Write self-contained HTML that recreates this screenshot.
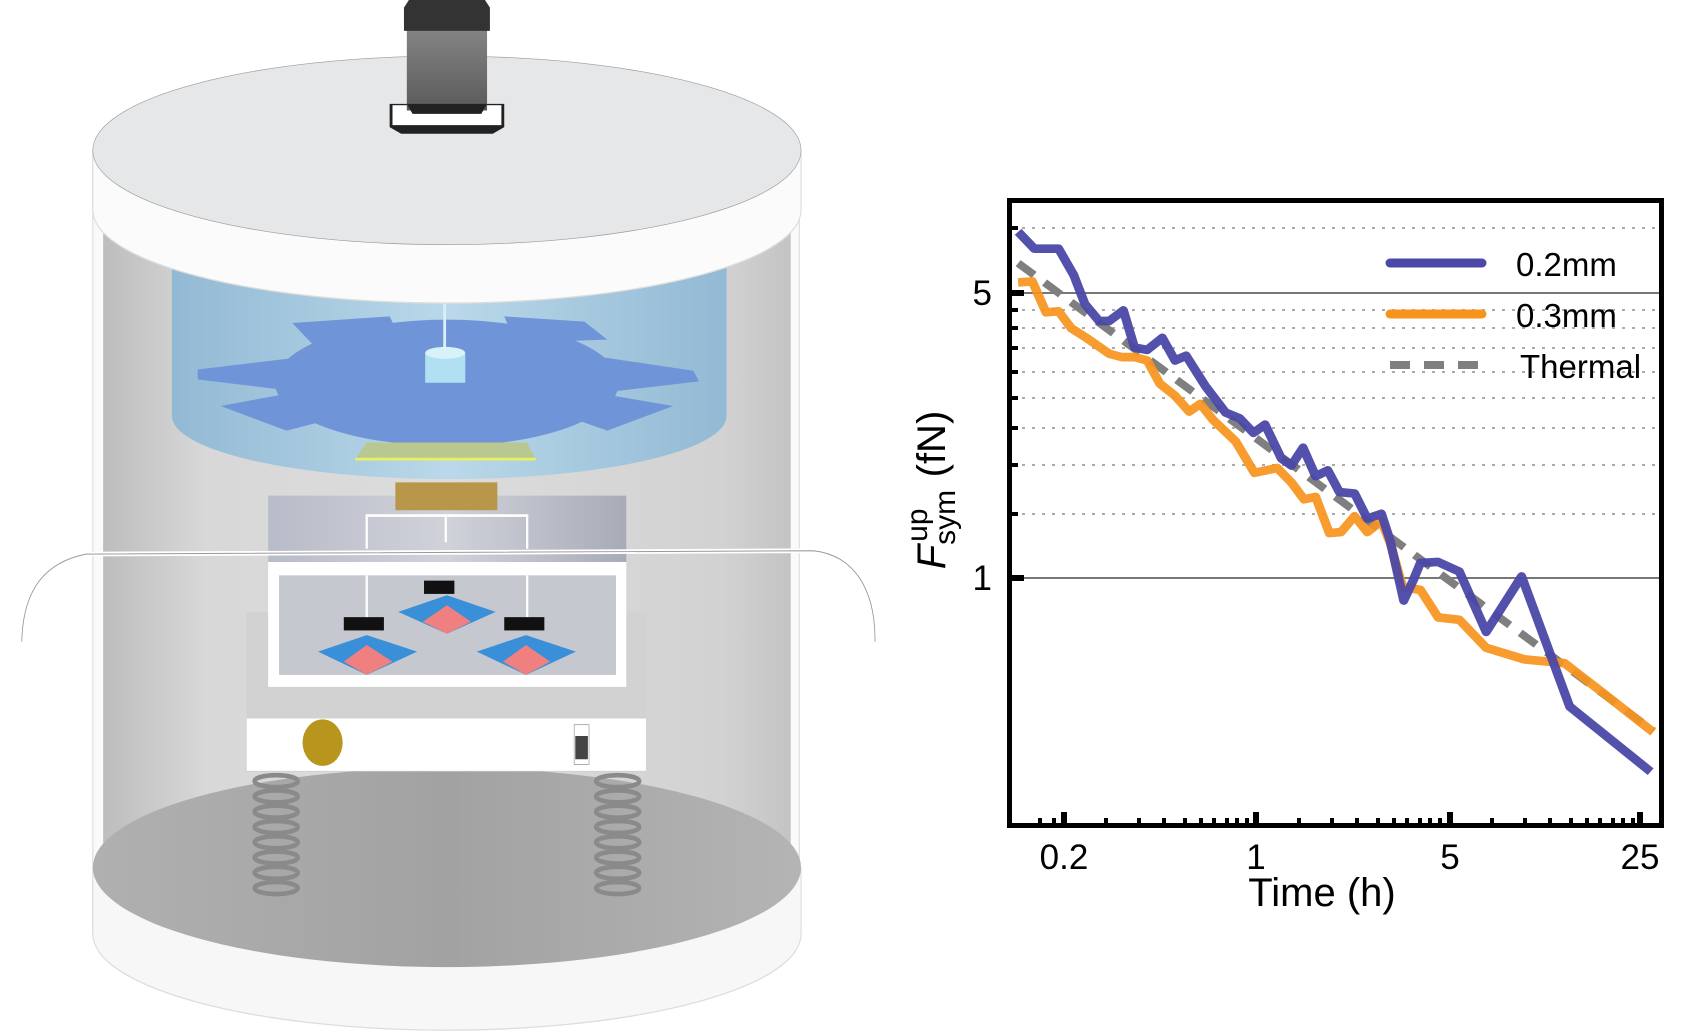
<!DOCTYPE html>
<html><head><meta charset="utf-8"><style>
html,body{margin:0;padding:0;background:#fff;}
svg{display:block;}
text{font-family:"Liberation Sans",Arial,sans-serif;}
</style></head><body>
<svg width="1692" height="1033" viewBox="0 0 1692 1033" xmlns="http://www.w3.org/2000/svg">
<defs>
<linearGradient id="wall" x1="0" x2="1"><stop offset="0" stop-color="#bdbdbd"/><stop offset="0.15" stop-color="#d8d8d8"/><stop offset="0.5" stop-color="#dcdcdc"/><stop offset="0.9" stop-color="#d2d2d2"/><stop offset="1" stop-color="#c4c4c4"/></linearGradient>
<linearGradient id="tank" x1="0" x2="1"><stop offset="0" stop-color="#8fb8d4"/><stop offset="0.5" stop-color="#b8d8ea"/><stop offset="1" stop-color="#8fb8d4"/></linearGradient>
<linearGradient id="motor" x1="0" x2="0" y1="0" y2="1"><stop offset="0" stop-color="#8a8a8a"/><stop offset="1" stop-color="#5a5a5a"/></linearGradient>
<linearGradient id="floor" x1="0" x2="1"><stop offset="0" stop-color="#b0b0b0"/><stop offset="0.5" stop-color="#a2a2a2"/><stop offset="1" stop-color="#b4b4b4"/></linearGradient>
<linearGradient id="upbox" x1="0" x2="1"><stop offset="0" stop-color="#b8bcc8"/><stop offset="0.5" stop-color="#d0d2da"/><stop offset="1" stop-color="#a8acb8"/></linearGradient>
</defs>

<g transform="translate(0,-9) scale(0.573,0.664)">
  <rect x="162" y="240" width="1233" height="1180" fill="#fafafa" stroke="#ddd" stroke-width="2"/>
  <rect x="180" y="330" width="1200" height="1000" fill="url(#wall)"/>
  <path d="M162,1320 L162,1420 A618,145 0 0 0 1398,1420 L1398,1320 Z" fill="#f7f7f7" stroke="#ddd" stroke-width="2"/>
  <ellipse cx="780" cy="1320" rx="618" ry="150" fill="url(#floor)"/>
  <path d="M300,360 L300,640 A484,95 0 0 0 1268,640 L1268,360 Z" fill="url(#tank)" opacity="0.95"/>
  <g fill="#6f95d8">
    <ellipse cx="780" cy="590" rx="300" ry="95"/>
    <polygon points="510,500 680,490 700,525 560,545"/>
    <polygon points="345,570 520,552 535,605 345,585"/>
    <polygon points="385,625 510,605 600,640 500,662"/>
    <polygon points="690,630 860,630 850,690 690,685"/>
    <polygon points="960,632 1060,608 1175,625 1060,662"/>
    <polygon points="1040,550 1210,572 1220,588 1050,605"/>
    <polygon points="880,490 1020,498 1060,525 900,530"/>
  </g>
  <line x1="776" y1="440" x2="776" y2="560" stroke="#d8eef8" stroke-width="5"/>
  <rect x="742" y="545" width="70" height="45" fill="#b0e0f2"/>
  <ellipse cx="777" cy="545" rx="35" ry="9" fill="#d8f2fa"/>
  <polygon points="640,680 920,680 935,705 620,705" fill="#b8c890"/>
  <line x1="620" y1="705" x2="935" y2="705" stroke="#e8f060" stroke-width="4"/>
  <path d="M162,240 L162,330 A618,140 0 0 0 1398,330 L1398,240 Z" fill="#fbfbfb" stroke="#ddd" stroke-width="2"/>
  <ellipse cx="780" cy="240" rx="618" ry="142" fill="#e6e7e8" stroke="#999" stroke-width="1"/>
  <polygon points="680,170 880,170 880,205 860,215 700,215 680,205" fill="#222"/>
  <rect x="685" y="172" width="190" height="30" fill="#fff"/>
  <rect x="710" y="40" width="140" height="140" fill="url(#motor)"/>
  <polygon points="720,5 840,5 855,25 855,60 705,60 705,25" fill="#333"/>
  <polygon points="710,170 850,170 840,185 720,185" fill="#222"/>
  <rect x="468" y="760" width="625" height="100" fill="url(#upbox)"/>
  <rect x="690" y="740" width="178" height="42" fill="#b8974a"/>
  <path d="M640,840 L640,790 L920,790 L920,840 M778,790 L778,830" stroke="#fff" stroke-width="4" fill="none"/>
  <rect x="430" y="935" width="698" height="160" fill="#d2d2d2"/>
  <rect x="468" y="860" width="625" height="188" fill="#fff"/>
  <rect x="487" y="880" width="588" height="150" fill="#c6c8d0"/>
  <path d="M640,880 L640,945 M920,880 L920,945" stroke="#fff" stroke-width="4"/>
  <g>
    <rect x="600" y="943" width="70" height="20" fill="#111"/>
    <polygon points="555,995 640,970 728,995 640,1030" fill="#3a90d8"/>
    <polygon points="600,1010 640,985 685,1010 640,1030" fill="#f08080"/>
    <rect x="740" y="888" width="53" height="20" fill="#111"/>
    <polygon points="695,935 780,910 865,935 780,968" fill="#3a90d8"/>
    <polygon points="738,950 780,925 822,950 780,968" fill="#f08080"/>
    <rect x="880" y="943" width="70" height="20" fill="#111"/>
    <polygon points="832,995 918,970 1005,995 918,1030" fill="#3a90d8"/>
    <polygon points="878,1010 918,985 960,1010 918,1030" fill="#f08080"/>
  </g>
  <rect x="430" y="1095" width="698" height="80" fill="#fff" stroke="#ccc" stroke-width="1"/>
  <circle cx="563" cy="1132" r="35" fill="#b8961e"/>
  <rect x="1002" y="1105" width="26" height="60" fill="#fff" stroke="#888"/>
  <rect x="1004" y="1122" width="22" height="35" fill="#444"/>
  <g fill="none" stroke="#8a8a8a" stroke-width="7">
    <ellipse cx="482" cy="1190" rx="38" ry="9"/><ellipse cx="482" cy="1213" rx="38" ry="9"/>
    <ellipse cx="482" cy="1236" rx="38" ry="9"/><ellipse cx="482" cy="1259" rx="38" ry="9"/>
    <ellipse cx="482" cy="1282" rx="38" ry="9"/><ellipse cx="482" cy="1305" rx="38" ry="9"/>
    <ellipse cx="482" cy="1328" rx="38" ry="9"/><ellipse cx="482" cy="1351" rx="38" ry="9"/>
    <ellipse cx="1078" cy="1190" rx="38" ry="9"/><ellipse cx="1078" cy="1213" rx="38" ry="9"/>
    <ellipse cx="1078" cy="1236" rx="38" ry="9"/><ellipse cx="1078" cy="1259" rx="38" ry="9"/>
    <ellipse cx="1078" cy="1282" rx="38" ry="9"/><ellipse cx="1078" cy="1305" rx="38" ry="9"/>
    <ellipse cx="1078" cy="1328" rx="38" ry="9"/><ellipse cx="1078" cy="1351" rx="38" ry="9"/>
  </g>
  <path d="M38,980 C40,900 80,860 150,848 L1420,843 C1490,850 1528,900 1527,980" fill="none" stroke="#fff" stroke-width="7"/>
  <path d="M38,980 C40,900 80,860 150,848 L1420,843 C1490,850 1528,900 1527,980" fill="none" stroke="#999" stroke-width="1.5"/>
</g>

<g stroke="#aaa" stroke-width="2" stroke-dasharray="3,7">
  <line x1="1012" x2="1659" y1="228" y2="228"/>
  <line x1="1012" x2="1659" y1="310" y2="310"/>
  <line x1="1012" x2="1659" y1="328" y2="328"/>
  <line x1="1012" x2="1659" y1="348" y2="348"/>
  <line x1="1012" x2="1659" y1="372" y2="372"/>
  <line x1="1012" x2="1659" y1="398" y2="398"/>
  <line x1="1012" x2="1659" y1="428" y2="428"/>
  <line x1="1012" x2="1659" y1="465" y2="465"/>
  <line x1="1012" x2="1659" y1="514" y2="514"/>
</g>
<line x1="1012" x2="1659" y1="293" y2="293" stroke="#777" stroke-width="2"/>
<line x1="1012" x2="1659" y1="578" y2="578" stroke="#777" stroke-width="2"/>
<g stroke="#000" stroke-width="4">
  <line x1="1010" x2="1018" y1="228" y2="228"/><line x1="1010" x2="1018" y1="310" y2="310"/>
  <line x1="1010" x2="1018" y1="328" y2="328"/><line x1="1010" x2="1018" y1="348" y2="348"/>
  <line x1="1010" x2="1018" y1="372" y2="372"/><line x1="1010" x2="1018" y1="398" y2="398"/>
  <line x1="1010" x2="1018" y1="428" y2="428"/><line x1="1010" x2="1018" y1="465" y2="465"/>
  <line x1="1010" x2="1018" y1="514" y2="514"/>
  <line x1="1010" x2="1024" y1="293" y2="293" stroke-width="6"/><line x1="1010" x2="1024" y1="578" y2="578" stroke-width="6"/>
</g>
<g stroke="#000" stroke-width="4">
  <line x1="1064" x2="1064" y1="825" y2="812" stroke-width="6"/>
  <line x1="1256" x2="1256" y1="825" y2="812" stroke-width="6"/>
  <line x1="1450" x2="1450" y1="825" y2="812" stroke-width="6"/>
  <line x1="1640" x2="1640" y1="825" y2="812" stroke-width="6"/>
  <g id="mt">
    <line x1="1106" x2="1106" y1="825" y2="818"/><line x1="1139" x2="1139" y1="825" y2="818"/>
    <line x1="1164" x2="1164" y1="825" y2="818"/><line x1="1185" x2="1185" y1="825" y2="818"/>
    <line x1="1201" x2="1201" y1="825" y2="818"/><line x1="1214" x2="1214" y1="825" y2="818"/>
    <line x1="1227" x2="1227" y1="825" y2="818"/><line x1="1237" x2="1237" y1="825" y2="818"/>
    <line x1="1247" x2="1247" y1="825" y2="818"/>
  </g>
  <use href="#mt" transform="translate(193,0)"/>
  <use href="#mt" transform="translate(386,0)"/>
  <line x1="1040" x2="1040" y1="825" y2="818"/><line x1="1054" x2="1054" y1="825" y2="818"/>
</g>
<g transform="translate(896.7,181.2) scale(0.506,0.482)" fill="none" stroke-linejoin="round">
  <polyline stroke="#7f7f7f" stroke-width="16" stroke-dasharray="40,26" points="240,170 1495,1140"/>
  <polyline stroke="#f7941d" stroke-opacity="0.92" stroke-width="18" points="240,210 268,208 295,272 320,270 345,305 375,325 420,358 445,365 470,365 495,372 520,420 550,445 578,478 600,462 625,495 670,540 707,605 752,595 780,625 805,660 828,655 855,730 878,728 905,695 930,728 958,705 975,750 1000,842 1035,848 1070,905 1112,910 1165,968 1240,992 1320,1000 1400,1065 1495,1143"/>
  <polyline stroke="#4b48a8" stroke-opacity="0.95" stroke-width="18" points="240,105 272,140 320,140 350,195 372,255 400,290 420,290 448,268 470,345 495,350 525,325 550,372 572,362 610,425 650,480 678,492 705,522 728,505 760,575 780,590 803,553 828,612 852,600 875,645 905,648 930,700 958,690 975,745 1002,870 1020,830 1035,792 1070,790 1112,810 1165,935 1235,820 1330,1090 1490,1225"/>
</g>
<rect x="1009.5" y="200.5" width="652" height="625" fill="none" stroke="#000" stroke-width="5"/>
<line x1="1390" x2="1482" y1="263" y2="263" stroke="#4b48a8" stroke-width="9" stroke-linecap="round"/>
<line x1="1390" x2="1482" y1="314" y2="314" stroke="#f7941d" stroke-width="9" stroke-linecap="round"/>
<line x1="1390" x2="1482" y1="365" y2="365" stroke="#7f7f7f" stroke-width="8" stroke-dasharray="20,14"/>
<g font-size="33" fill="#000">
  <text x="1516" y="276">0.2mm</text>
  <text x="1516" y="327">0.3mm</text>
  <text x="1520" y="378">Thermal</text>
</g>
<g font-size="35" fill="#000" text-anchor="middle">
  <text x="1064" y="869">0.2</text>
  <text x="1256" y="869">1</text>
  <text x="1450" y="869">5</text>
  <text x="1640" y="869">25</text>
  <text x="992" y="305" text-anchor="end">5</text>
  <text x="992" y="590" text-anchor="end">1</text>
</g>
<text x="1322" y="906" font-size="40" text-anchor="middle">Time (h)</text>
<g transform="translate(945,490) rotate(-90)">
  <text x="0" y="0" font-size="40" text-anchor="middle"><tspan font-style="italic">F</tspan><tspan font-size="30" dy="10">sym</tspan><tspan font-size="30" dx="-52" dy="-28">up</tspan><tspan dy="18" dx="20"> (fN)</tspan></text>
</g>
</svg>
</body></html>
